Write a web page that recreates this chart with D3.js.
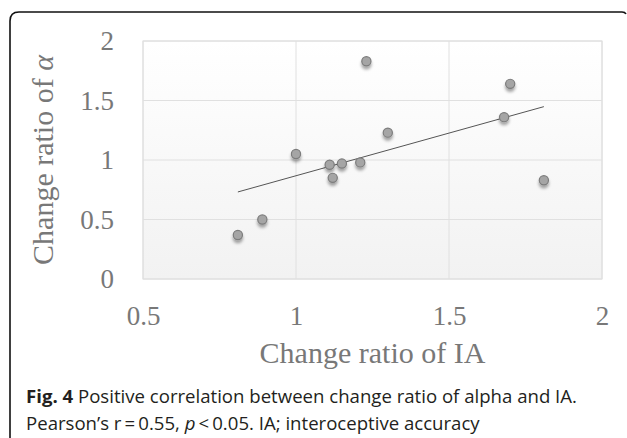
<!DOCTYPE html>
<html>
<head>
<meta charset="utf-8">
<script src="https://cdn.jsdelivr.net/npm/d3@7"></script>
<style>
  body { margin: 0; background: #fff; }
  svg { display: block; }
</style>
</head>
<body>
<div id="chart"></div>
<script>
// change ratio of IA (x) and of alpha (y), one entry per participant
var iaRatio    = [0.81, 0.89, 1.00, 1.11, 1.12, 1.15, 1.21, 1.23, 1.30, 1.68, 1.70, 1.81]
var alphaRatio = [0.37, 0.50, 1.05, 0.96, 0.85, 0.97, 0.98, 1.83, 1.23, 1.36, 1.64, 0.83]
var xTicks = [0.5, 1, 1.5, 2]
var yTicks = [0, 0.5, 1, 1.5, 2]

var width = 627, height = 438
var margin = {top: 41, right: 25, bottom: 159, left: 143}
var plotW = width - margin.left - margin.right,
    plotH = height - margin.top - margin.bottom

var svg = d3.select("#chart").append("svg")
    .attr("width", width)
    .attr("height", height)

var defs = svg.append("defs")
var grad = defs.append("linearGradient")
    .attr("id", "plotBg")
    .attr("x1", 0).attr("y1", 0).attr("x2", 0).attr("y2", 1)
grad.append("stop").attr("offset", "0%").attr("stop-color", "#ffffff")
grad.append("stop").attr("offset", "100%").attr("stop-color", "#f2f2f2")

var shadow = defs.append("filter").attr("id", "dotShadow")
    .attr("x", "-100%").attr("y", "-100%").attr("width", "300%").attr("height", "300%")
shadow.append("feDropShadow")
    .attr("dx", 0).attr("dy", 3).attr("stdDeviation", 1.6)
    .attr("flood-color", "#000").attr("flood-opacity", 0.35)

// frame around the figure (open at the bottom)
svg.append("path")
    .attr("d", "M10,438 L10,21 Q10,12 19,12 L622,12 Q625,12 626,14")
    .attr("fill", "none")
    .attr("stroke", "#111")
    .attr("stroke-width", 1.6)

var g = svg.append("g")
    .attr("transform", "translate(" + margin.left + "," + margin.top + ")")

var x = d3.scaleLinear().domain([0.5, 2]).range([0, plotW])
var y = d3.scaleLinear().domain([0, 2]).range([plotH, 0])

g.append("rect")
    .attr("width", plotW)
    .attr("height", plotH)
    .attr("fill", "url(#plotBg)")
    .attr("stroke", "#dcdcdc")

// gridlines
g.append("g").selectAll("line")
    .data(yTicks)
    .enter().append("line")
    .attr("x1", 0).attr("x2", plotW)
    .attr("y1", d => y(d)).attr("y2", d => y(d))
    .attr("stroke", "#e0e0e0")

g.append("g").selectAll("line")
    .data(xTicks)
    .enter().append("line")
    .attr("y1", 0).attr("y2", plotH)
    .attr("x1", d => x(d)).attr("x2", d => x(d))
    .attr("stroke", "#e0e0e0")

var serif = "'Liberation Serif', 'DejaVu Serif', serif"
var axisColor = "#787878"

// axes (labels only, lines hidden)
var xAxis = g.append("g")
    .attr("transform", "translate(0," + plotH + ")")
    .call(d3.axisBottom(x).tickValues(xTicks).tickSize(0).tickPadding(27).tickFormat(d3.format("")))
var yAxis = g.append("g")
    .call(d3.axisLeft(y).tickValues(yTicks).tickSize(0).tickPadding(29).tickFormat(d3.format("")))

;[xAxis, yAxis].forEach(a => {
    a.select(".domain").remove()
    a.selectAll("text")
        .attr("font-family", serif)
        .attr("font-size", "27px")
        .attr("fill", axisColor)
})

// linear fit, drawn over the range of the data
var mx = d3.mean(iaRatio), my = d3.mean(alphaRatio)
var sxy = d3.sum(iaRatio, (v, i) => (v - mx) * (alphaRatio[i] - my))
var sxx = d3.sum(iaRatio, v => (v - mx) * (v - mx))
var slope = sxy / sxx, intercept = my - slope * mx
var xr = d3.extent(iaRatio)

g.append("line")
    .attr("x1", x(xr[0])).attr("y1", y(intercept + slope * xr[0]))
    .attr("x2", x(xr[1])).attr("y2", y(intercept + slope * xr[1]))
    .attr("stroke", "#555")
    .attr("stroke-width", 1)

g.append("g").selectAll("circle")
    .data(iaRatio)
    .enter().append("circle")
    .attr("cx", d => x(d))
    .attr("cy", (d, i) => y(alphaRatio[i]))
    .attr("r", 4.6)
    .attr("fill", "#a5a5a5")
    .attr("stroke", "#7c7c7c")
    .attr("stroke-width", 1.2)
    .attr("filter", "url(#dotShadow)")

// axis titles
svg.append("text")
    .attr("x", margin.left + plotW / 2)
    .attr("y", 363)
    .attr("text-anchor", "middle")
    .attr("font-family", serif)
    .attr("font-size", "30px")
    .attr("fill", axisColor)
    .text("Change ratio of IA")

var yTitle = svg.append("text")
    .attr("transform", "translate(53," + (margin.top + plotH / 2) + ") rotate(-90)")
    .attr("text-anchor", "middle")
    .attr("font-family", serif)
    .attr("font-size", "30px")
    .attr("fill", axisColor)
yTitle.append("tspan").text("Change ratio of ")
yTitle.append("tspan").attr("font-style", "italic").text("α")

// caption
var sans = "'Open Sans', 'Noto Sans', sans-serif"
var cap1 = svg.append("text")
    .attr("x", 26).attr("y", 403)
    .attr("font-family", sans)
    .attr("font-size", "18.6px")
    .attr("fill", "#231f20")
cap1.append("tspan").attr("font-weight", "bold").text("Fig. 4")
cap1.append("tspan").text(" Positive correlation between change ratio of alpha and IA.")

var cap2 = svg.append("text")
    .attr("x", 26).attr("y", 430)
    .attr("font-family", sans)
    .attr("font-size", "18.6px")
    .attr("fill", "#231f20")
cap2.append("tspan").text("Pearson\u2019s r\u2009=\u20090.55, ")
cap2.append("tspan").attr("font-style", "italic").text("p")
cap2.append("tspan").text("\u2009<\u20090.05. IA; interoceptive accuracy")
</script>
</body>
</html>
